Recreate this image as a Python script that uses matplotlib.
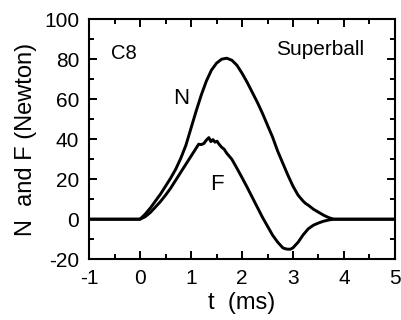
import matplotlib

matplotlib.use("Agg")
import matplotlib.pyplot as plt
from matplotlib.ticker import MultipleLocator

plt.rcParams["font.family"] = ["Liberation Sans", "DejaVu Sans"]
plt.rcParams["axes.unicode_minus"] = False

# normal force N(t)
t_n = [-1, 0, 0.1, 0.2, 0.3, 0.4, 0.5, 0.6, 0.7, 0.8, 0.9, 1.0, 1.1, 1.2, 1.3, 1.4,
       1.5, 1.6, 1.7, 1.8, 1.9, 2.0, 2.1, 2.2, 2.3, 2.4, 2.5, 2.6, 2.7, 2.8, 2.9,
       3.0, 3.1, 3.2, 3.25, 3.3, 3.35, 3.4, 3.5, 3.6, 3.7, 3.8, 5]
n_vals = [0, 0, 2.5, 5.5, 9, 12.5, 16.5, 20.5, 25, 30.5, 37, 45.5, 54, 62, 69, 74.5,
          78, 80, 80.5, 79.5, 77, 73, 68.5, 63.5, 58.5, 53, 47, 41, 34, 28, 22,
          16.5, 12, 9, 7.8, 7, 6, 5, 3.5, 2, 0.8, 0, 0]

# friction force F(t)
t_f = [-1, 0, 0.1, 0.2, 0.3, 0.4, 0.5, 0.6, 0.7, 0.8, 0.9, 1.0, 1.05, 1.1, 1.15,
       1.2, 1.25, 1.3, 1.35, 1.39, 1.43, 1.47, 1.51, 1.55, 1.6, 1.65, 1.7, 1.75,
       1.8, 1.9, 2.0, 2.1, 2.2, 2.3, 2.4, 2.5, 2.6, 2.7, 2.8, 2.85, 2.9, 2.95,
       3.0, 3.1, 3.2, 3.3, 3.4, 3.5, 3.6, 3.7, 3.8, 5]
f_vals = [0, 0, 1.2, 3.3, 6, 8.8, 12, 15.5, 19.5, 23.5, 27.5, 31.5, 33.5, 35.5, 37.5,
          37.3, 37.8, 39.5, 40.8, 38.8, 39.8, 38.5, 39, 37.5, 36, 35, 33, 31.5,
          30, 25.5, 20.8, 16, 11, 6, 1, -3.5, -8, -11.5, -14.3, -14.8, -15, -15,
          -14.3, -11.5, -7.8, -4.8, -3, -1.9, -1, -0.4, 0, 0]

fig = plt.figure(figsize=(4.01, 3.2), dpi=100)
ax = fig.add_axes([0.222, 0.19, 0.763, 0.75])

ax.plot(t_n, n_vals, color="black", lw=2.1, solid_joinstyle="round")
ax.plot(t_f, f_vals, color="black", lw=2.1, solid_joinstyle="round")

ax.set_xlim(-1, 5)
ax.set_ylim(-20, 100)
ax.xaxis.set_major_locator(MultipleLocator(1))
ax.xaxis.set_minor_locator(MultipleLocator(0.5))
ax.yaxis.set_major_locator(MultipleLocator(20))
ax.yaxis.set_minor_locator(MultipleLocator(10))
ax.tick_params(which="both", direction="in", top=True, right=True, width=1.4,
               labelsize=15, pad=7)
ax.tick_params(which="major", length=6)
ax.tick_params(which="minor", length=3.5)
for sp in ax.spines.values():
    sp.set_linewidth(1.5)

ax.set_xlabel("t  (ms)", fontsize=17, labelpad=3)
ax.set_ylabel("N  and F (Newton)", fontsize=17, labelpad=5)

ax.text(-0.57, 80.3, "C8", fontsize=14.5, ha="left", va="baseline")
ax.text(3.54, 82, "Superball", fontsize=15, ha="center", va="baseline")
ax.text(0.81, 57.8, "N", fontsize=16, ha="center", va="baseline")
ax.text(1.51, 14.5, "F", fontsize=16, ha="center", va="baseline")

fig.savefig("out.png", dpi=100)
